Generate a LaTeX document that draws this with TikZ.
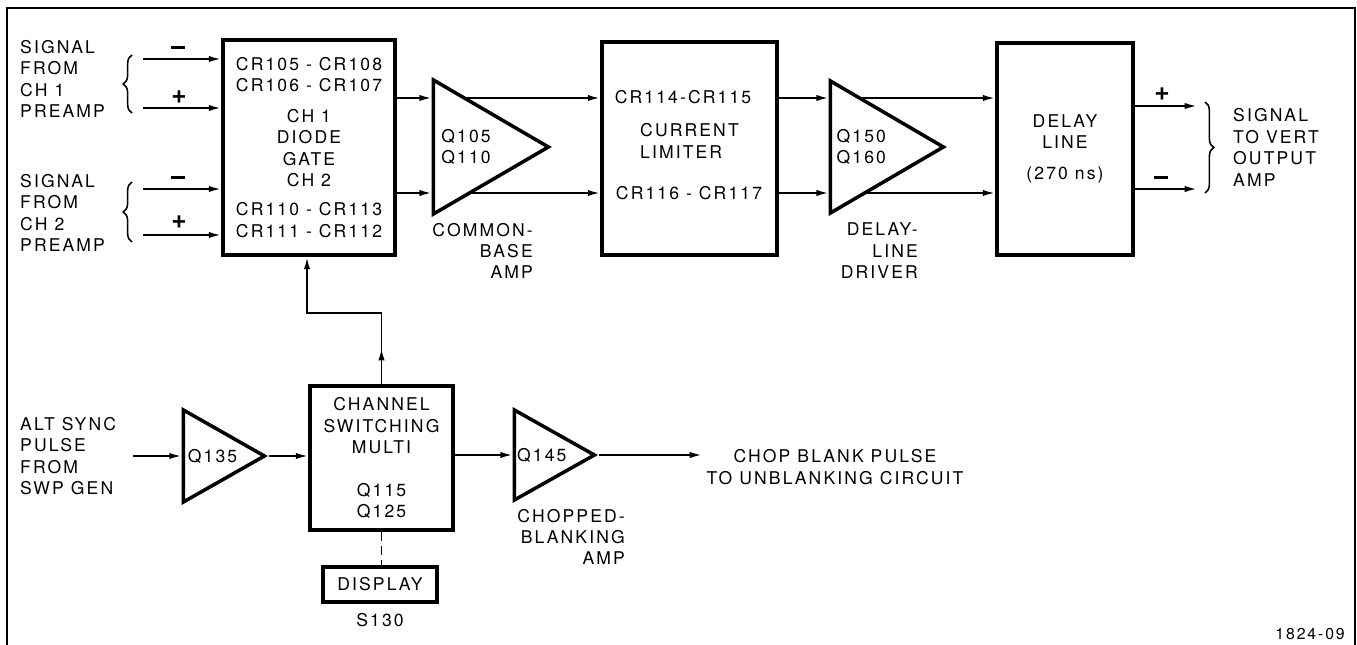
\documentclass[tikz,border=0pt]{standalone}
\usepackage{fontspec}
\setmainfont{TeX Gyre Heros}[LetterSpace=12]
\usetikzlibrary{arrows.meta,positioning,calc,shapes.geometric,backgrounds,decorations.pathreplacing}

\tikzset{
  blk/.style={draw,line width=2.2pt,fill=white,inner sep=0pt,align=center},
  amp/.style={draw,line width=2pt,fill=white,isosceles triangle,isosceles triangle stretches,
    shape border rotate=0,inner sep=0pt,anchor=apex},
  sig/.style={line width=1.1pt,-{Latex[length=7pt,width=3.6pt]}},
  wire/.style={line width=1.1pt},
  pm/.style={font=\fontsize{15}{15}\selectfont\bfseries,inner sep=1pt},
  brc/.style={line width=0.9pt,decorate,decoration={brace,amplitude=5pt}},
}
\newcommand{\mns}{\rule[3pt]{7.5pt}{1.3pt}}

\begin{document}
\begin{tikzpicture}[x=0.02cm,y=-0.02cm,font=\fontsize{10}{12.2}\selectfont]
\useasboundingbox (0,0) rectangle (1357,645);
\draw[wire] (7,650) -- (7,8) -- (1355,8) -- (1355,650);

% rails of the vertical signal path
\coordinate (railA) at (0,98);
\coordinate (railB) at (0,193);

% blocks
\node[blk,minimum width=3.44cm,minimum height=4.3cm] (gate) at (309,147.5)
  {CR105 - CR108\\CR106 - CR107\\[5pt]CH 1\\DIODE\\GATE\\CH 2\\[4.5pt]CR110 - CR113\\CR111 - CR112};
\node[blk,minimum width=3.5cm,minimum height=4.26cm] (climit) at (689.5,148.5) {};
\node (cr114) at (683,97) {CR114-CR115};
\node[align=left,anchor=west] (limtxt) at (634,141) {CURRENT\\LIMITER};
\node (cr116) at (689,193) {CR116 - CR117};
\node[blk,minimum width=2.72cm,minimum height=4.24cm] (dline) at (1065,149)
  {DELAY\\LINE\\[5.4pt](270 ns)};
\node[blk,minimum width=2.86cm,minimum height=2.88cm] (csm) at (381.5,458)
  {CHANNEL\\SWITCHING\\MULTI\\[12pt]Q115\\Q125};
\node[blk,minimum width=2.28cm,minimum height=0.7cm] (disp) at (380,584.5) {DISPLAY};
\node[below=2pt of disp] (s130) {S130};

% amplifiers
\node[amp,minimum height=2.3cm,minimum width=2.68cm] (amp1) at (553,147) {};
\node[right=2pt of amp1.west,align=left] (q105) {Q105\\Q110};
\node[amp,minimum height=2.26cm,minimum width=2.64cm] (amp2) at (948,147) {};
\node[right=1pt of amp2.west,align=left] (q150) {Q150\\Q160};
\node[amp,minimum height=1.62cm,minimum width=1.84cm] (amp3) at (269,456) {};
\node[right=0pt of amp3.west] (q135) {Q135};
\node[amp,minimum height=1.6cm,minimum width=1.8cm] (amp4) at (599,455) {};
\node[right=-1pt of amp4.west] (q145) {Q145};

\node[align=right,anchor=east] (cbamp) at (539,251) {COMMON-\\BASE\\AMP};
\node[align=right,anchor=east] (dldrv) at (924,251) {DELAY-\\LINE\\DRIVER};
\node[align=right,anchor=east] (cbl) at (631,537) {CHOPPED-\\BLANKING\\AMP};

% inputs
\node[align=left,anchor=west] (sig1) at (14,79) {SIGNAL\\FROM\\CH 1\\PREAMP};
\node[align=left,anchor=west] (sig2) at (14,213) {SIGNAL\\FROM\\CH 2\\PREAMP};
\node[align=left,anchor=west] (alt) at (14,456) {ALT SYNC\\PULSE\\FROM\\SWP GEN};
\coordinate (in1m) at (143,59);
\coordinate (in1p) at (143,108);
\coordinate (in2m) at (143,189);
\coordinate (in2p) at (143,235);
\coordinate (inalt) at (133,456);
\draw[sig] (in1m) -- (in1m -| gate.west);
\draw[sig] (in1p) -- (in1p -| gate.west);
\draw[sig] (in2m) -- (in2m -| gate.west);
\draw[sig] (in2p) -- (in2p -| gate.west);
\node[pm] (m1) at (178,50) {\mns};
\node[pm] (p1) at (179,97) {+};
\node[pm] (m2) at (178,180) {\mns};
\node[pm] (p2) at (179,222) {+};
\draw[brc] (132,113) -- (132,55);
\draw[brc] (132,242) -- (132,182);

% outputs
\coordinate (outP) at (1197,106);
\coordinate (outM) at (1197,189);
\draw[sig] (dline.east |- outP) -- (outP);
\draw[sig] (dline.east |- outM) -- (outM);
\node[pm] (p3) at (1162,94) {+};
\node[pm] (m3) at (1161,180) {\mns};
\draw[brc] (1205,102) -- (1205,193);
\node[align=left,anchor=west] (sigout) at (1227,147.5) {SIGNAL\\TO VERT\\OUTPUT\\AMP};

% vertical channel path
\draw[sig] (gate.east |- railA) -- (amp1.west |- railA);
\draw[sig] (gate.east |- railB) -- (amp1.west |- railB);
\draw[sig] (climit.east |- railA) -- (amp2.west |- railA);
\draw[sig] (climit.east |- railB) -- (amp2.west |- railB);
\begin{scope}[on background layer]
\draw[sig] (amp1.west |- railA) -- (climit.west |- railA);
\draw[sig] (amp1.west |- railB) -- (climit.west |- railB);
\draw[sig] (amp2.west |- railA) -- (dline.west |- railA);
\draw[sig] (amp2.west |- railB) -- (dline.west |- railB);
\end{scope}

% switching
\draw[sig] (inalt) -- (amp3.west);
\draw[sig] (amp3.apex) -- (csm.west |- amp3.apex);
\draw[sig] (csm.east |- amp4.west) -- (amp4.west);
\coordinate (chopin) at (702,455);
\draw[sig] (amp4.apex) -- (chopin);
\node[align=center] (chop) at (835,467) {CHOP BLANK PULSE\\TO UNBLANKING CIRCUIT};
\coordinate (bend) at (307,313);
\draw[sig] (csm.north) |- (bend) -- (bend |- gate.south);
\draw[sig] (csm.north) -- ++(0,-36);
\draw[wire,dash pattern=on 5pt off 3pt] (csm.south) -- (csm.south |- disp.north);

\node[anchor=east,font=\fontsize{9}{11}\selectfont] (figno) at (1351,634) {1824-09};
\end{tikzpicture}
\end{document}
